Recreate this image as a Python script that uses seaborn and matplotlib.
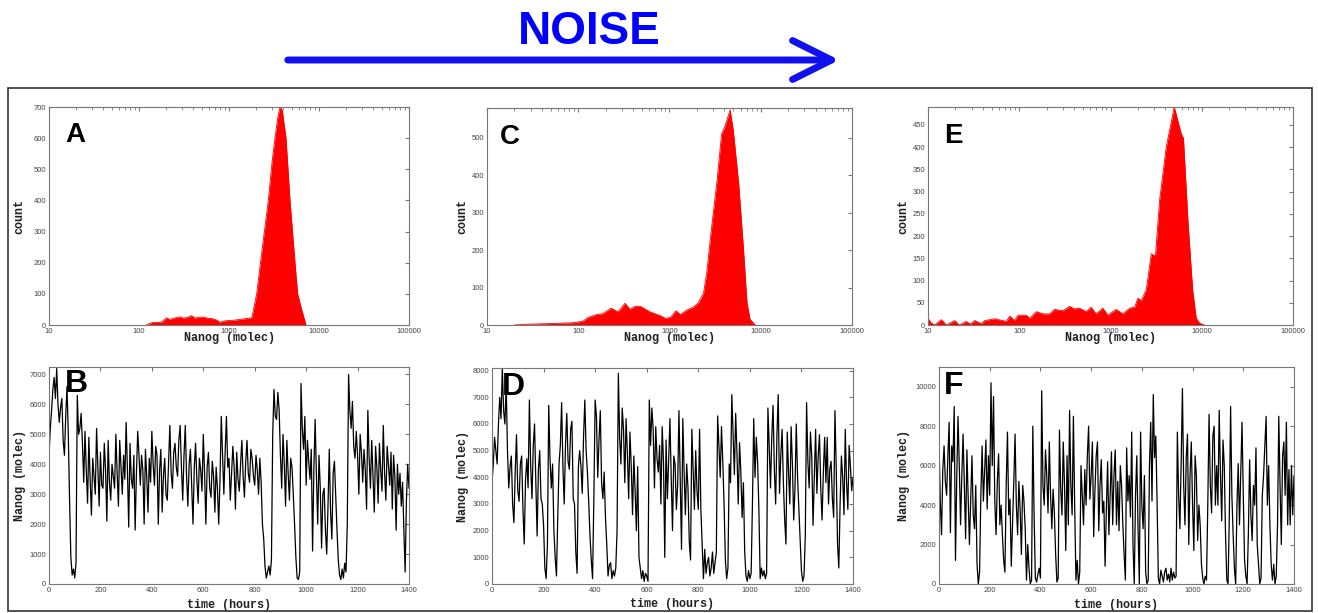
import matplotlib
matplotlib.use("Agg")
import matplotlib.pyplot as plt
import seaborn as sns
import pandas as pd
from matplotlib.patches import Rectangle, FancyArrowPatch

# histogram panels: Nanog level (molecules) vs count
a_nanog = [121, 140, 160, 180, 202, 220, 245, 284, 310, 340, 384, 420, 460, 517, 580,
           662, 740, 790, 850, 950, 1100, 1320, 1500, 1700, 1800, 2030, 2350, 2735, 3000,
           3240, 3500, 3690, 3900, 4300, 4760, 5410, 5790, 6410, 7170]
a_count = [0, 8, 8, 10, 23, 18, 22, 26, 22, 24, 30, 22, 25, 25, 22, 20, 15, 8, 12, 14,
           15, 18, 20, 22, 25, 100, 250, 400, 520, 600, 670, 700, 690, 600, 400, 200, 100, 50, 0]

c_nanog = [20, 27, 52, 87, 112, 128, 158, 185, 229, 273, 326, 369, 420, 478, 614, 792, 897,
           1020, 1180, 1310, 1550, 1830, 2080, 2360, 2560, 2890, 3300, 3720, 4040, 4620,
           5000, 5720, 6480, 7060, 7640, 8700]
c_count = [0, 2, 4, 6, 10, 20, 28, 30, 45, 35, 58, 42, 50, 50, 35, 25, 18, 20, 38, 28, 40,
           48, 60, 85, 140, 260, 380, 510, 530, 575, 520, 380, 200, 60, 15, 0]

e_nanog = [10, 10.8, 11.8, 14, 15.9, 19.6, 22, 26.3, 29, 32.5, 38.4, 41.8, 54, 72, 78.6, 89,
           97, 120, 130, 154, 182, 215, 244, 301, 356, 404, 456, 540, 613, 694, 823, 934,
           1150, 1370, 1620, 1840, 1990, 2180, 2470, 2800, 3110, 3450, 4080, 5000, 5950,
           6300, 7080, 7950, 8700, 9500, 10700]
e_count = [15, 5, 0, 12, 0, 10, 0, 8, 2, 10, 3, 10, 14, 8, 20, 10, 22, 22, 15, 30, 25, 25,
           35, 32, 42, 36, 38, 30, 40, 25, 38, 22, 35, 25, 38, 40, 60, 55, 80, 160, 155, 280,
           400, 490, 430, 420, 229, 79, 15, 4, 0]

# time series panels: Nanog (molec), one sample every 5 hours from t=0
b_trace = [
    4300, 5200, 5800, 6500, 6900, 6200, 7200, 6000, 5400, 5900, 6200, 4800, 4300, 5600, 6600, 5000, 2800, 900, 300, 500,
    200, 700, 6300, 5000, 5200, 5700, 4700, 3400, 5100, 3800, 2700, 4900, 3500, 2300, 4200, 3600, 3000, 5200, 3900, 2600,
    4400, 3300, 3200, 4700, 3800, 2100, 4800, 3400, 2800, 4000, 3600, 3200, 5000, 3700, 2600, 4800, 3900, 3000, 4300, 3500,
    5400, 3800, 1900, 4700, 3500, 3200, 4300, 1800, 3700, 5100, 4300, 3300, 4300, 3800, 2000, 4500, 3600, 2400, 4200, 3400,
    5100, 4000, 3300, 4600, 4300, 2000, 3800, 4500, 2400, 3600, 4200, 3000, 2800, 4100, 5300, 3700, 3200, 4400, 4700, 3900,
    3600, 4800, 5300, 3900, 2800, 4300, 5300, 3600, 2600, 4000, 4500, 3300, 2000, 3900, 4700, 3500, 2700, 4200, 3800, 3100,
    5000, 3700, 2000, 3900, 4400, 3200, 2900, 4100, 3600, 2400, 3900, 3200, 2000, 3500, 5600, 4300, 3000, 4400, 5600, 3900,
    4200, 2800, 3700, 4600, 3900, 2500, 4400, 3500, 3100, 4000, 4800, 3600, 2900, 4100, 4800, 3700, 3400, 4500, 4200, 3600,
    3300, 4300, 3800, 3000, 4200, 3400, 2000, 1500, 600, 200, 400, 600, 300, 800, 5000, 6500, 5600, 5500, 6400, 5800,
    4300, 3200, 5000, 4000, 2600, 4800, 3700, 2800, 4200, 3900, 3000, 2000, 900, 200, 150, 400, 6700, 5200, 4500, 5600,
    3300, 4800, 4100, 3500, 4500, 1100, 3800, 5500, 3600, 2000, 4300, 3200, 1200, 3000, 3200, 1800, 1000, 2600, 4500, 2400,
    1500, 3700, 4100, 2900, 1800, 800, 300, 150, 500, 200, 700, 400, 2000, 7000, 5800, 5200, 6100, 4600, 4200, 5100,
    4300, 3000, 5000, 4400, 3400, 4500, 3800, 2500, 5800, 4200, 3200, 4800, 3600, 2400, 4600, 3900, 2700, 4700, 3800, 3100,
    5300, 3700, 2800, 4600, 4000, 3300, 4400, 2500, 4300, 3600, 1800, 4000, 3000, 3700, 2600, 3400, 1800, 400, 2800, 4000,
    3200]

d_trace = [
    3800, 4500, 5500, 5000, 4500, 6000, 7000, 6200, 8100, 6500, 6000, 7500, 5000, 3600, 4400, 4800, 3000, 2300, 4200, 5600,
    3500, 3100, 4500, 4800, 2800, 1500, 3900, 4700, 3600, 6900, 4400, 3200, 5200, 6000, 3800, 1800, 4300, 5000, 3200, 3000,
    2200, 600, 200, 1500, 6700, 4700, 3600, 4500, 2000, 1000, 300, 2500, 4500, 5200, 6800, 4400, 3000, 5200, 6400, 4600,
    4300, 5800, 6100, 3200, 3000, 1200, 400, 4400, 5000, 4400, 3400, 5500, 6900, 5000, 4200, 3100, 1800, 900, 200, 3200,
    6900, 6300, 4000, 5400, 6500, 3800, 3200, 4200, 2500, 1500, 300, 700, 800, 200, 500, 300, 600, 2000, 7900, 5500,
    4500, 6600, 5800, 3800, 6200, 4900, 3200, 5700, 4400, 2600, 4800, 3500, 2000, 4400, 1000, 600, 200, 500, 100, 400,
    300, 100, 6900, 5200, 6600, 5800, 3600, 5900, 4700, 4200, 5200, 3000, 5900, 4600, 1000, 5400, 3200, 4600, 6200, 4000,
    2000, 4800, 4500, 2800, 3700, 6500, 3900, 1300, 6200, 4200, 2600, 4500, 3600, 1600, 900, 5800, 4300, 2800, 5000, 3500,
    2800, 5800, 2800, 1500, 200, 1300, 400, 800, 1000, 300, 600, 1200, 400, 800, 1200, 6300, 5200, 4000, 5900, 4600,
    3000, 900, 200, 600, 4500, 3800, 7100, 5600, 4100, 6400, 4900, 3000, 5300, 4200, 2500, 3800, 1200, 300, 100, 500,
    200, 400, 3000, 6200, 4000, 5500, 4600, 2800, 200, 600, 300, 500, 200, 400, 6600, 5200, 3600, 5500, 6700, 4300,
    3000, 5600, 7100, 3400, 4800, 5800, 3800, 2400, 1500, 5700, 4200, 3000, 5900, 4500, 2400, 3600, 6000, 4000, 2800, 1500,
    500, 100, 300, 1800, 6800, 4600, 3600, 5700, 4800, 2200, 4000, 5800, 3400, 4800, 5600, 3600, 2400, 4200, 5500, 3800,
    5500, 3000, 4300, 4600, 3200, 2500, 6500, 4300, 1500, 600, 3000, 4800, 4000, 2600, 5800, 3800, 2800, 5200, 4400, 3500,
    4000]

f_trace = [
    7200, 4200, 2500, 5800, 7000, 5200, 4500, 6500, 8200, 2600, 7000, 6200, 9000, 1200, 5400, 8500, 6000, 3000, 5500, 7600,
    5000, 2300, 6800, 4500, 2000, 4200, 6500, 3500, 2800, 5000, 1000, 0, 600, 4500, 7000, 4200, 5800, 7300, 3800, 6500,
    4500, 10200, 6000, 9500, 4200, 2500, 5200, 6600, 3000, 4000, 2500, 1200, 600, 5000, 7700, 3500, 4300, 900, 3000, 5200,
    7600, 4000, 2500, 5200, 3800, 1500, 5000, 4200, 2800, 200, 2000, 800, 0, 200, 8000, 3500, 300, 100, 500, 800,
    300, 9800, 5000, 4000, 6800, 5500, 3600, 7200, 4500, 2800, 4800, 3600, 1500, 100, 300, 7800, 4800, 3500, 7200, 5000,
    1700, 6500, 3000, 8800, 5000, 3500, 8500, 4000, 200, 1200, 0, 600, 6000, 4500, 3000, 5800, 4000, 6500, 8000, 4300,
    5500, 7200, 2400, 4800, 6500, 7200, 2700, 5000, 6300, 3600, 4200, 900, 3800, 6200, 2500, 4500, 6700, 3000, 5500, 6800,
    3000, 5200, 2700, 6000, 5000, 3000, 1500, 200, 6900, 4200, 5500, 3400, 7700, 2000, 0, 4500, 6500, 2800, 0, 7700,
    4000, 2800, 5500, 600, 0, 200, 6000, 8200, 4200, 9600, 6400, 7500, 4200, 300, 0, 700, 400, 100, 600, 800,
    200, 500, 100, 800, 200, 600, 300, 400, 7700, 4500, 2800, 6200, 9900, 5000, 3000, 6400, 7600, 2000, 5500, 7200,
    4000, 1700, 6500, 5500, 2200, 4000, 3000, 1000, 300, 0, 400, 200, 4000, 8600, 5000, 3600, 7500, 8000, 4000, 6000,
    4000, 8800, 5500, 3200, 7300, 6000, 2500, 200, 0, 3500, 9000, 4500, 2500, 800, 0, 4000, 6100, 3000, 5500, 8200,
    4500, 1200, 400, 0, 2500, 6300, 3500, 2200, 5000, 4000, 6900, 2000, 1000, 0, 300, 4500, 5500, 7000, 8500, 4000,
    6000, 3000, 1000, 200, 1000, 0, 400, 3000, 8500, 5000, 2000, 6500, 7200, 4500, 8200, 3000, 5800, 3000, 6000, 3500,
    5500]

RED = "#ff0000"
GREY = "#777777"
W, H = 1318, 613

sns.set_style("white")
plt.rcParams["font.family"] = ["Liberation Sans", "DejaVu Sans"]

fig = plt.figure(figsize=(W / 100, H / 100), dpi=100)


def px_axes(x0, y0, x1, y1):
    return fig.add_axes([x0 / W, 1 - y1 / H, (x1 - x0) / W, (y1 - y0) / H])


def style(ax, xlabel, ylabel, ylab_x, xlab_y):
    ax.tick_params(direction="in", which="both", top=True, right=True, length=3,
                   color=GREY, labelsize=5.5, labelcolor="#444444", pad=2)
    ax.tick_params(which="minor", length=1.8)
    for s in ax.spines.values():
        s.set_color(GREY)
        s.set_linewidth(0.8)
    lab = dict(family="Liberation Mono", fontweight="bold", fontsize=8.5, color="#222222")
    ax.set_xlabel(xlabel, **lab)
    ax.set_ylabel(ylabel, **lab)
    ax.yaxis.set_label_coords(ylab_x, 0.5)
    ax.xaxis.set_label_coords(0.5, xlab_y)


def hist_panel(ax, xs, cs, ymax, yticks, letter, lx, ly, ylab_x):
    df = pd.DataFrame({"Nanog": xs, "count": cs})
    sns.lineplot(data=df, x="Nanog", y="count", ax=ax, color=RED, lw=0.6)
    ax.fill_between(df["Nanog"], df["count"], color=RED, lw=0)
    ax.set_xscale("log")
    ax.set_xlim(10, 100000)
    ax.set_ylim(0, ymax)
    ax.set_xticks([10, 100, 1000, 10000, 100000])
    ax.set_xticklabels(["10", "100", "1000", "10000", "100000"])
    ax.set_yticks(yticks)
    style(ax, "Nanog (molec)", "count", ylab_x, -0.034)
    ax.text(lx, ly, letter, transform=ax.transAxes, fontsize=20, fontweight="bold",
            color="black", ha="left", va="top")


def trace_panel(ax, vals, ymax, yticks, letter, lx, ly, ylab_x):
    df = pd.DataFrame({"time": range(0, 5 * len(vals), 5), "Nanog": vals})
    sns.lineplot(data=df, x="time", y="Nanog", ax=ax, color="black", lw=0.9)
    ax.set_xlim(0, 1400)
    ax.set_ylim(0, ymax)
    ax.set_xticks(range(0, 1401, 200))
    ax.set_yticks(yticks)
    style(ax, "time (hours)", "Nanog (molec)", ylab_x, -0.067)
    ax.text(lx, ly, letter, transform=ax.transAxes, fontsize=23, fontweight="bold",
            color="black", ha="left", va="top")


ax_a = px_axes(49, 107, 409, 325)
hist_panel(ax_a, a_nanog, a_count, 700, range(0, 701, 100), "A", 0.044, 0.93, -0.065)
ax_c = px_axes(487, 108, 852, 325)
hist_panel(ax_c, c_nanog, c_count, 580, range(0, 501, 100), "C", 0.036, 0.925, -0.05)
ax_e = px_axes(928, 107, 1293, 325)
hist_panel(ax_e, e_nanog, e_count, 490, range(0, 451, 50), "E", 0.044, 0.925, -0.052)

ax_b = px_axes(49, 367, 409, 584)
trace_panel(ax_b, b_trace, 7250, range(0, 7001, 1000), "B", 0.044, 0.99, -0.065)
ax_d = px_axes(492, 368, 853, 584)
trace_panel(ax_d, d_trace, 8100, range(0, 8001, 1000), "D", 0.028, 0.98, -0.064)
ax_f = px_axes(939, 367, 1294, 584)
trace_panel(ax_f, f_trace, 11000, range(0, 10001, 2000), "F", 0.014, 0.98, -0.083)

# frame round the six panels
fig.add_artist(Rectangle((8 / W, 1 - 611 / H), 1304 / W, 523 / H, transform=fig.transFigure,
                         fill=False, ec="#333333", lw=1.2))

# NOISE arrow
fig.text(589 / W, 1 - 32 / H, "NOISE", ha="center", va="center", fontsize=33,
         fontweight="bold", color="#0000ff")
fig.add_artist(FancyArrowPatch((285 / W, 1 - 60 / H), (842 / W, 1 - 60 / H),
                               transform=fig.transFigure, color="#1010ee", lw=5,
                               arrowstyle="->,head_length=1.4,head_width=0.7",
                               mutation_scale=20, capstyle="round"))

fig.savefig("out.png", dpi=100)
